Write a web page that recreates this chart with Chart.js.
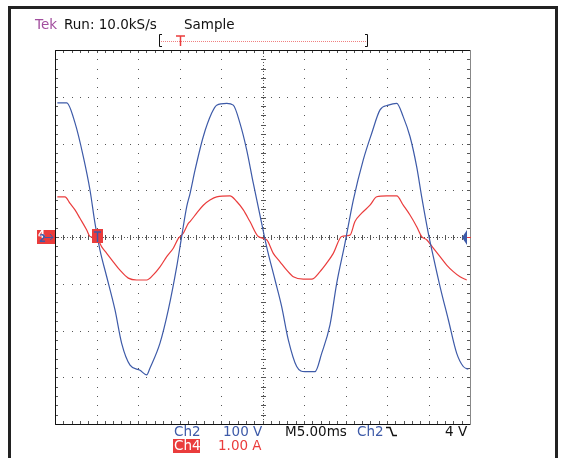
<!DOCTYPE html>
<html>
<head>
<meta charset="utf-8">
<script src="https://cdn.jsdelivr.net/npm/chart.js@4/dist/chart.umd.min.js"></script>
<style>
  html, body { margin: 0; padding: 0; background: #fff; }
  canvas { display: block; }
</style>
</head>
<body>
<canvas id="scope" width="561" height="458"></canvas>
<script>
// Ch2 voltage trace (time in ms, value in V)
const ch2Time = [0.28, 1.41, 2.41, 3.41, 4.22, 4.82, 5.42, 6.23, 7.23, 8.04, 9.04, 10.24, 11.05, 11.45, 12.65, 13.65, 14.66, 15.26, 15.87, 16.27, 16.87, 17.87, 18.88, 19.48, 20.69, 21.48, 22.29, 23.1, 23.89, 24.9, 25.5, 26.51, 27.31, 28.11, 29.12, 30.12, 31.33, 32.13, 33.13, 33.94, 34.94, 35.94, 37.14, 38.16, 39.16, 40.16, 41.17, 41.96, 42.77, 43.58, 44.18, 44.98, 45.58, 46.39, 47.39, 48.4, 49.19, 49.8];
const ch2Volts = [287, 287, 244, 172, 100, 29, -28, -85, -156, -228, -274, -285, -295, -280, -227, -156, -64, 1, 65, 93, 143, 215, 265, 282, 286, 282, 243, 186, 115, 29, -21, -92, -149, -220, -277, -288, -288, -249, -188, -99, -13, 79, 165, 222, 272, 282, 286, 257, 215, 150, 86, 8, -42, -106, -177, -249, -277, -283];

// Ch4 current trace (time in ms, value in A)
const ch4Time = [0.28, 1.2, 1.81, 2.41, 3.01, 3.82, 4.22, 5.02, 5.63, 6.23, 7.02, 7.83, 8.83, 9.84, 11.05, 11.84, 12.65, 13.46, 14.25, 14.86, 15.46, 16.06, 16.27, 17.07, 17.87, 18.67, 19.48, 21.08, 21.89, 22.69, 23.49, 24.49, 25.5, 26.3, 27.11, 27.92, 28.71, 29.92, 30.93, 31.93, 32.73, 33.53, 34.54, 35.54, 36.14, 36.95, 37.95, 38.76, 39.96, 41.17, 41.96, 42.77, 43.58, 44.18, 44.78, 45.58, 46.39, 47.19, 47.99, 48.8, 49.6];
const ch4Amps = [0.86, 0.86, 0.72, 0.58, 0.40, 0.15, 0.01, -0.02, -0.21, -0.35, -0.53, -0.71, -0.88, -0.92, -0.92, -0.81, -0.64, -0.42, -0.24, -0.03, 0.08, 0.29, 0.33, 0.51, 0.68, 0.79, 0.86, 0.88, 0.76, 0.58, 0.33, 0.01, -0.06, -0.35, -0.53, -0.71, -0.85, -0.90, -0.90, -0.74, -0.56, -0.35, 0.01, 0.04, 0.33, 0.51, 0.68, 0.86, 0.88, 0.88, 0.68, 0.47, 0.22, 0.01, -0.06, -0.24, -0.42, -0.60, -0.74, -0.85, -0.92];

// screen settings: 10 x 8 divisions
const msPerDiv = 5;
const voltsPerDiv = 100;
const ampsPerDiv = 1;
const divsX = 10;
const divsY = 8;

const BLUE = '#3d5aa8';
const RED = '#ea3c3c';
const FONT = '13.5px "DejaVu Sans"';

const toPoints = (xs, ys) => xs.map((t, i) => ({ x: t, y: ys[i] }));

const scopePlugin = {
  id: 'scope',
  beforeDraw(chart) {
    const ctx = chart.ctx;
    ctx.save();
    ctx.fillStyle = '#fff';
    ctx.fillRect(0, 0, chart.width, chart.height);
    ctx.restore();
  },
  beforeDatasetsDraw(chart) {
    const ctx = chart.ctx;
    const xs = chart.scales.x, ys = chart.scales.y;
    const a = chart.chartArea;
    const px = v => Math.round(xs.getPixelForValue(v));
    const py = v => Math.round(ys.getPixelForValue(v));
    const xMax = msPerDiv * divsX;
    const yMax = voltsPerDiv * divsY / 2;
    const xMinor = msPerDiv / 5, yMinor = voltsPerDiv / 5;
    ctx.save();
    ctx.fillStyle = '#555';
    // dotted major grid lines
    for (let i = 1; i < divsX; i++) {
      if (i === divsX / 2) continue;
      const x = px(i * msPerDiv);
      for (let v = -yMax; v <= yMax; v += yMinor) ctx.fillRect(x, py(v), 1, 1);
    }
    for (let j = 1; j < divsY; j++) {
      if (j === divsY / 2) continue;
      const y = py(-yMax + j * voltsPerDiv);
      for (let t = 0; t <= xMax; t += xMinor) ctx.fillRect(px(t), y, 1, 1);
    }
    // centre cross
    const cx = px(xMax / 2), cy = py(0);
    ctx.strokeStyle = '#555';
    ctx.lineWidth = 1;
    ctx.setLineDash([1, 2]);
    ctx.beginPath();
    ctx.moveTo(a.left, cy + 0.5); ctx.lineTo(a.right, cy + 0.5);
    ctx.moveTo(cx + 0.5, a.top); ctx.lineTo(cx + 0.5, a.bottom);
    ctx.stroke();
    ctx.setLineDash([]);
    for (let t = 0; t <= xMax; t += xMinor) ctx.fillRect(px(t), cy - 2, 1, 5);
    for (let v = -yMax; v <= yMax; v += yMinor) ctx.fillRect(cx - 2, py(v), 5, 1);
    // edge ticks
    for (let t = 0; t <= xMax; t += xMinor) {
      ctx.fillRect(px(t), a.top, 1, 3);
      ctx.fillRect(px(t), a.bottom - 3, 1, 3);
    }
    for (let v = -yMax; v <= yMax; v += yMinor) {
      ctx.fillRect(a.left, py(v), 3, 1);
      ctx.fillRect(a.right - 3, py(v), 3, 1);
    }
    // border of the graticule
    ctx.strokeStyle = '#111';
    ctx.beginPath();
    ctx.moveTo(a.left + 0.5, a.top + 0.5);
    ctx.lineTo(a.left + 0.5, a.bottom + 0.5);
    ctx.lineTo(a.right + 0.5, a.bottom + 0.5);
    ctx.moveTo(a.left + 0.5, a.top + 0.5);
    ctx.lineTo(a.right + 0.5, a.top + 0.5);
    ctx.stroke();
    ctx.strokeStyle = '#888';
    ctx.beginPath();
    ctx.moveTo(a.right + 0.5, a.top);
    ctx.lineTo(a.right + 0.5, a.bottom);
    ctx.stroke();
    ctx.restore();
  },
  afterDatasetsDraw(chart) {
    const ctx = chart.ctx;
    const xs = chart.scales.x, ys = chart.scales.y;
    const a = chart.chartArea;
    const cy = Math.round(ys.getPixelForValue(0));
    ctx.save();
    // ground marker on the left
    ctx.fillStyle = RED;
    ctx.fillRect(a.left - 18, cy - 7, 18, 14);
    ctx.font = 'bold 10px "DejaVu Sans"';
    ctx.textBaseline = 'middle';
    ctx.fillStyle = '#fff';
    ctx.fillText('4', a.left - 17, cy - 2);
    ctx.fillStyle = BLUE;
    ctx.fillText('2', a.left - 16, cy + 2);
    ctx.strokeStyle = BLUE;
    ctx.beginPath();
    ctx.moveTo(a.left - 10, cy + 0.5); ctx.lineTo(a.left - 2, cy + 0.5);
    ctx.moveTo(a.left - 5, cy - 3); ctx.lineTo(a.left - 2, cy + 0.5); ctx.lineTo(a.left - 5, cy + 3);
    ctx.stroke();
    // trigger point marker
    const tx = Math.round(xs.getPixelForValue(5.1));
    ctx.fillStyle = RED;
    ctx.fillRect(tx - 5, cy - 8, 11, 14);
    ctx.strokeStyle = BLUE;
    ctx.lineWidth = 1.5;
    ctx.beginPath();
    ctx.moveTo(tx - 3, cy - 5); ctx.lineTo(tx + 4, cy - 5);
    ctx.moveTo(tx + 0.5, cy - 5); ctx.lineTo(tx + 0.5, cy + 5);
    ctx.stroke();
    // trigger level arrow on the right
    ctx.fillStyle = BLUE;
    ctx.beginPath();
    ctx.moveTo(a.right - 8, cy + 0.5);
    ctx.lineTo(a.right - 3, cy - 7);
    ctx.lineTo(a.right - 3, cy + 8);
    ctx.closePath();
    ctx.fill();
    ctx.fillStyle = RED;
    ctx.fillRect(a.right - 3, cy, 4, 1);
    ctx.restore();
  },
  afterDraw(chart) {
    const ctx = chart.ctx;
    ctx.save();
    // outer frame
    ctx.strokeStyle = '#222';
    ctx.lineWidth = 3;
    ctx.beginPath();
    ctx.moveTo(9.5, 458);
    ctx.lineTo(9.5, 7.5);
    ctx.lineTo(556.5, 7.5);
    ctx.lineTo(556.5, 458);
    ctx.stroke();

    ctx.font = FONT;
    ctx.textBaseline = 'alphabetic';
    ctx.textAlign = 'left';
    ctx.fillStyle = '#a24e9e';
    ctx.fillText('Tek', 35, 29);
    ctx.fillStyle = '#111';
    ctx.fillText('Run: 10.0kS/s', 64, 29);
    ctx.fillText('Sample', 184, 29);

    // record window bracket with trigger position
    ctx.lineWidth = 1;
    ctx.strokeStyle = '#111';
    ctx.beginPath();
    ctx.moveTo(162, 34.5); ctx.lineTo(159.5, 34.5); ctx.lineTo(159.5, 46.5); ctx.lineTo(162, 46.5);
    ctx.moveTo(365, 34.5); ctx.lineTo(367.5, 34.5); ctx.lineTo(367.5, 46.5); ctx.lineTo(365, 46.5);
    ctx.stroke();
    ctx.strokeStyle = '#f08080';
    ctx.setLineDash([1, 1]);
    ctx.beginPath();
    ctx.moveTo(161, 41.5); ctx.lineTo(366, 41.5);
    ctx.stroke();
    ctx.setLineDash([]);
    ctx.strokeStyle = RED;
    ctx.lineWidth = 1.5;
    ctx.beginPath();
    ctx.moveTo(176, 36); ctx.lineTo(185, 36);
    ctx.moveTo(180.5, 36); ctx.lineTo(180.5, 46);
    ctx.stroke();

    // bottom readout
    ctx.fillStyle = BLUE;
    ctx.fillText('Ch2', 174, 436);
    ctx.fillText('100 V', 223, 436);
    ctx.fillStyle = '#111';
    ctx.fillText('M5.00ms', 285, 436);
    ctx.fillStyle = BLUE;
    ctx.fillText('Ch2', 357, 436);
    ctx.strokeStyle = '#111';
    ctx.lineWidth = 1.5;
    ctx.beginPath();
    ctx.moveTo(386, 427.5); ctx.lineTo(390, 427.5); ctx.lineTo(393, 435.5); ctx.lineTo(397, 435.5);
    ctx.stroke();
    ctx.fillStyle = '#111';
    ctx.fillText('4 V', 445, 436);
    ctx.fillStyle = RED;
    ctx.fillRect(173, 439, 27, 14);
    ctx.fillStyle = '#fff';
    ctx.fillText('Ch4', 174, 450);
    ctx.fillStyle = RED;
    ctx.fillText('1.00 A', 218, 450);
    ctx.restore();
  }
};

new Chart(document.getElementById('scope'), {
  type: 'line',
  data: {
    datasets: [{
      label: 'Ch2',
      data: toPoints(ch2Time, ch2Volts),
      borderColor: BLUE,
      borderWidth: 1.2,
      pointRadius: 0,
      cubicInterpolationMode: 'monotone',
      yAxisID: 'y'
    }, {
      label: 'Ch4',
      data: toPoints(ch4Time, ch4Amps),
      borderColor: RED,
      borderWidth: 1.2,
      pointRadius: 0,
      cubicInterpolationMode: 'monotone',
      yAxisID: 'y2'
    }]
  },
  options: {
    responsive: false,
    animation: false,
    devicePixelRatio: 1,
    layout: { padding: { left: 55, top: 50, right: 91, bottom: 34 } },
    plugins: { legend: { display: false }, tooltip: { enabled: false } },
    scales: {
      x: { type: 'linear', min: 0, max: msPerDiv * divsX, display: false },
      y: { min: -voltsPerDiv * divsY / 2, max: voltsPerDiv * divsY / 2, display: false },
      y2: { min: -ampsPerDiv * divsY / 2, max: ampsPerDiv * divsY / 2, display: false }
    }
  },
  plugins: [scopePlugin]
});
</script>
</body>
</html>
